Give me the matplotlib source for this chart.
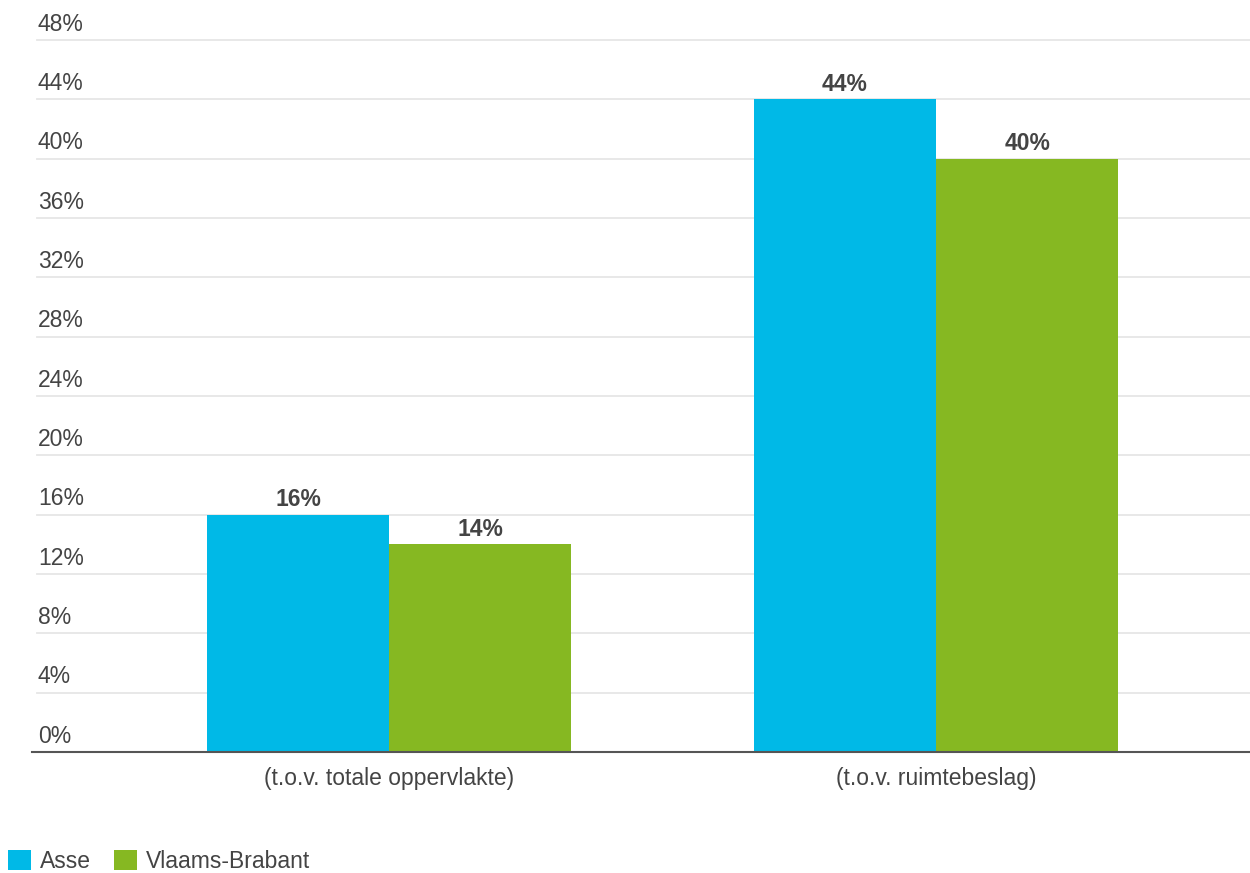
import matplotlib.pyplot as plt
import numpy as np

categories = ['(t.o.v. totale oppervlakte)', '(t.o.v. ruimtebeslag)']
series = ['Asse', 'Vlaams-Brabant']
asse = [16, 44]
vlaams_brabant = [14, 40]
yticks = list(range(0, 49, 4))

colors = ['#00b9e7', '#86b822']
text_color = '#444444'
fs = 16.5

plt.rcParams['font.family'] = ['Liberation Sans', 'DejaVu Sans']

fig = plt.figure(figsize=(12.5, 8.73), dpi=100)
ax = fig.add_axes([32 / 1250, 1 - 752 / 873, 1 - 32 / 1250, (752 - 32.7) / 873])

x = np.arange(len(categories))
w = 0.333
bars = []
for i, (name, vals) in enumerate(zip(series, [asse, vlaams_brabant])):
    b = ax.bar(x + (i - 0.5) * w, vals, width=w, color=colors[i],
               label=name, zorder=2)
    bars.append(b)
    for rect, v in zip(b, vals):
        ax.text(rect.get_x() + rect.get_width() / 2, v + 0.25, f'{v}%',
                ha='center', va='bottom', fontsize=fs, fontweight='bold',
                color=text_color, zorder=3)

ax.set_xlim(-0.653, 1.574)
ax.set_ylim(0, 48.5)

# horizontal grid with labels sitting above each line
for t in yticks:
    if t > 0:
        ax.axhline(t, xmin=5 / 1218, color='#e6e6e6', lw=1.3, zorder=1)
    ax.text(6 / 1218, t + 0.3, f'{t}%', transform=ax.get_yaxis_transform(),
            ha='left', va='bottom', fontsize=fs, color=text_color)

ax.set_yticks([])
ax.set_xticks(x)
ax.set_xticklabels(categories, fontsize=fs, color=text_color)
ax.tick_params(axis='x', length=0, pad=11)
for s in ['top', 'right', 'left']:
    ax.spines[s].set_visible(False)
ax.spines['bottom'].set_color('#555555')
ax.spines['bottom'].set_linewidth(1.5)
ax.spines['bottom'].set_zorder(4)

fig.legend(handles=bars, labels=series, loc='lower left',
           bbox_to_anchor=(8 / 1250, 0.0), ncol=2, frameon=False,
           fontsize=fs, handlelength=1.0, handleheight=1.0,
           borderpad=0, borderaxespad=0,
           handletextpad=0.4, columnspacing=1.0, labelcolor=text_color)

fig.savefig('out.png', dpi=100)
